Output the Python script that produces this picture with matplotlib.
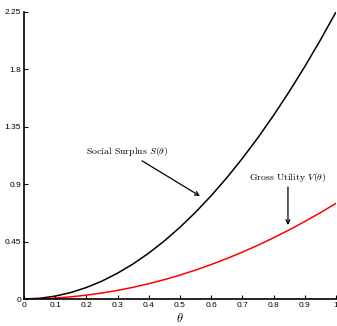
import matplotlib
matplotlib.use("Agg")
import matplotlib.pyplot as plt

plt.rcParams['mathtext.fontset'] = 'cm'

theta = [0.0, 0.05, 0.1, 0.15, 0.2, 0.25, 0.3, 0.35, 0.4, 0.45, 0.5,
         0.55, 0.6, 0.65, 0.7, 0.75, 0.8, 0.85, 0.9, 0.95, 1.0]
social_surplus = [0.0, 0.0056, 0.0225, 0.0506, 0.09, 0.1406, 0.2025, 0.2756,
                  0.36, 0.4556, 0.5625, 0.6806, 0.81, 0.9506, 1.1025, 1.2656,
                  1.44, 1.6256, 1.8225, 2.0306, 2.25]
gross_utility = [0.0, 0.0019, 0.0075, 0.0169, 0.03, 0.0469, 0.0675, 0.0919,
                 0.12, 0.1519, 0.1875, 0.2269, 0.27, 0.3169, 0.3675, 0.4219,
                 0.48, 0.5419, 0.6075, 0.6769, 0.75]
xticks = [0, 0.1, 0.2, 0.3, 0.4, 0.5, 0.6, 0.7, 0.8, 0.9, 1]
xticklabels = ['0', '0.1', '0.2', '0.3', '0.4', '0.5', '0.6', '0.7', '0.8', '0.9', '1']
yticks = [0, 0.45, 0.9, 1.35, 1.8, 2.25]
yticklabels = ['0', '0.45', '0.9', '1.35', '1.8', '2.25']

fig = plt.figure(figsize=(3.37, 3.26), dpi=100)
ax = fig.add_axes([24/337, 27/326, 312/337, 287/326])
ax.plot(theta, social_surplus, color='black', lw=1.1)
ax.plot(theta, gross_utility, color='red', lw=1.1)
ax.set_xlim(0, 1)
ax.set_ylim(0, 2.25)
ax.set_xticks(xticks)
ax.set_xticklabels(xticklabels, fontsize=6, family='Liberation Sans')
ax.set_yticks(yticks)
ax.set_yticklabels(yticklabels, fontsize=6, family='Liberation Sans')
ax.tick_params(direction='in', length=3, width=0.8, pad=2)
for s in ['top', 'right']:
    ax.spines[s].set_visible(False)
for s in ['left', 'bottom']:
    ax.spines[s].set_linewidth(1.2)
ax.set_xlabel(r'$\theta$', fontsize=9, labelpad=2)

ax.annotate(r'Social Surplus $S(\theta)$', xy=(0.564, 0.807), xytext=(0.4615, 1.105),
            fontsize=7, family='cmr10', ha='right', va='bottom',
            arrowprops=dict(arrowstyle='->', color='black', lw=0.9,
                            shrinkA=0, shrinkB=0))
ax.annotate(r'Gross Utility $V(\theta)$', xy=(0.846, 0.58), xytext=(0.846, 0.90),
            fontsize=7, family='cmr10', ha='center', va='bottom',
            arrowprops=dict(arrowstyle='->', color='black', lw=0.9,
                            shrinkA=0, shrinkB=0))
fig.savefig('out.png', dpi=100)
